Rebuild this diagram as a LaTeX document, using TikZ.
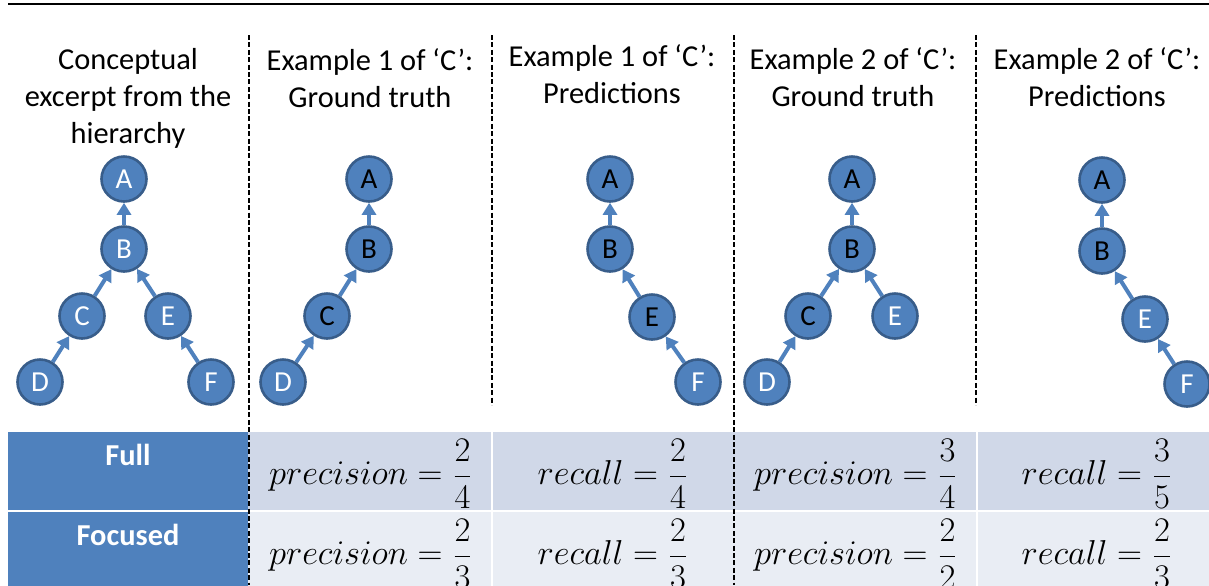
\documentclass[tikz,border=0pt]{standalone}
\usepackage{amsmath}
\usepackage{fontspec}
\setmainfont{Carlito}
\usepackage{xcolor}
\usepackage{tikz}
\usetikzlibrary{arrows.meta}

\definecolor{nodeblue}{HTML}{4F81BD}
\definecolor{nodeedge}{HTML}{385D8A}
\definecolor{rowdark}{HTML}{D0D8E8}
\definecolor{rowlight}{HTML}{E9EDF4}

\begin{document}
\begin{tikzpicture}[
  x=0.5pt, y=-0.5pt,
  cls/.style={circle,draw=nodeedge,fill=nodeblue,line width=1.3pt,minimum size=22.5pt,inner sep=0pt,text=white,font=\fontsize{14.5}{17}\selectfont},
  hit/.style={text=black},
  up/.style={-{Triangle[length=6pt,width=7pt]},draw=nodeblue,line width=2pt},
  head/.style={align=center,anchor=north,inner sep=0pt,font=\fontsize{15.2}{18.5}\selectfont},
  sep/.style={dash pattern=on 2.5pt off 1.2pt,line width=1.2pt},
  cell/.style={inner sep=0pt,font=\fontsize{16.5}{20}\selectfont},
  rowname/.style={inner sep=0pt,text=white,font=\fontsize{15.2}{18}\selectfont\bfseries}
]
\useasboundingbox (0,0) rectangle (1209,585);
\clip (0,0) rectangle (1209,585);

\draw[line width=0.7pt] (8,4) -- (1209,4);

% headers
\node[head] (h1) at (128,48) {Conceptual\\excerpt from the\\hierarchy};
\node[head] (h2) at (370,48) {Example 1 of ‘C’:\\Ground truth};
\node[head] (h3) at (612,44) {Example 1 of ‘C’:\\Predictions};
\node[head] (h4) at (853,47) {Example 2 of ‘C’:\\Ground truth};
\node[head] (h5) at (1097,47) {Example 2 of ‘C’:\\Predictions};

% table
\fill[nodeblue] (8,432) rectangle (248,590);
\fill[rowdark] (248,432) rectangle (1209,511);
\fill[rowlight] (248,511) rectangle (1209,590);
\draw[white,line width=0.8pt] (8,511) -- (1209,511);
\draw[white,line width=0.8pt] (492,432) -- (492,590) (977,432) -- (977,590);

\node[rowname] (full) at (128,455) {Full};
\node[rowname] (focus) at (128,535) {Focused};

\node[cell] (p1) at (371,474) {$\displaystyle precision=\frac{2}{4}$};
\node[cell] (r1) at (613,474) {$\displaystyle recall=\frac{2}{4}$};
\node[cell] (p2) at (856,474) {$\displaystyle precision=\frac{3}{4}$};
\node[cell] (r2) at (1097,474) {$\displaystyle recall=\frac{3}{5}$};
\node[cell] (fp1) at (371,554) {$\displaystyle precision=\frac{2}{3}$};
\node[cell] (fr1) at (613,554) {$\displaystyle recall=\frac{2}{3}$};
\node[cell] (fp2) at (856,554) {$\displaystyle precision=\frac{2}{2}$};
\node[cell] (fr2) at (1097,554) {$\displaystyle recall=\frac{2}{3}$};

% separators
\draw[sep] (249,35) -- (249,585);
\draw[sep] (492,35) -- (492,405);
\draw[sep] (734,35) -- (734,585);
\draw[sep] (976,35) -- (976,405);

% hierarchy
\node[cls] (A1) at (124,179) {A};
\node[cls] (B1) at (124,249) {B};
\node[cls] (C1) at (82,316) {C};
\node[cls] (E1) at (168,316) {E};
\node[cls] (D1) at (40,382) {D};
\node[cls] (F1) at (211,382) {F};
\draw[up] (B1) -- (A1);
\draw[up] (C1) -- (B1);
\draw[up] (E1) -- (B1);
\draw[up] (D1) -- (C1);
\draw[up] (F1) -- (E1);

% example 1, ground truth
\node[cls,hit] (A2) at (369,179) {A};
\node[cls,hit] (B2) at (369,249) {B};
\node[cls,hit] (C2) at (327,316) {C};
\node[cls] (D2) at (283,382) {D};
\draw[up] (B2) -- (A2);
\draw[up] (C2) -- (B2);
\draw[up] (D2) -- (C2);

% example 1, predictions
\node[cls,hit] (A3) at (610,179) {A};
\node[cls,hit] (B3) at (610,249) {B};
\node[cls,hit] (E3) at (652,317) {E};
\node[cls] (F3) at (698,382) {F};
\draw[up] (B3) -- (A3);
\draw[up] (E3) -- (B3);
\draw[up] (F3) -- (E3);

% example 2, ground truth
\node[cls,hit] (A4) at (852,179) {A};
\node[cls,hit] (B4) at (852,249) {B};
\node[cls,hit] (C4) at (808,316) {C};
\node[cls] (E4) at (895,316) {E};
\node[cls] (D4) at (767,382) {D};
\draw[up] (B4) -- (A4);
\draw[up] (C4) -- (B4);
\draw[up] (E4) -- (B4);
\draw[up] (D4) -- (C4);

% example 2, predictions
\node[cls,hit] (A5) at (1102,180) {A};
\node[cls,hit] (B5) at (1102,251) {B};
\node[cls] (E5) at (1145,319) {E};
\node[cls] (F5) at (1187,384) {F};
\draw[up] (B5) -- (A5);
\draw[up] (E5) -- (B5);
\draw[up] (F5) -- (E5);
\end{tikzpicture}
\end{document}
